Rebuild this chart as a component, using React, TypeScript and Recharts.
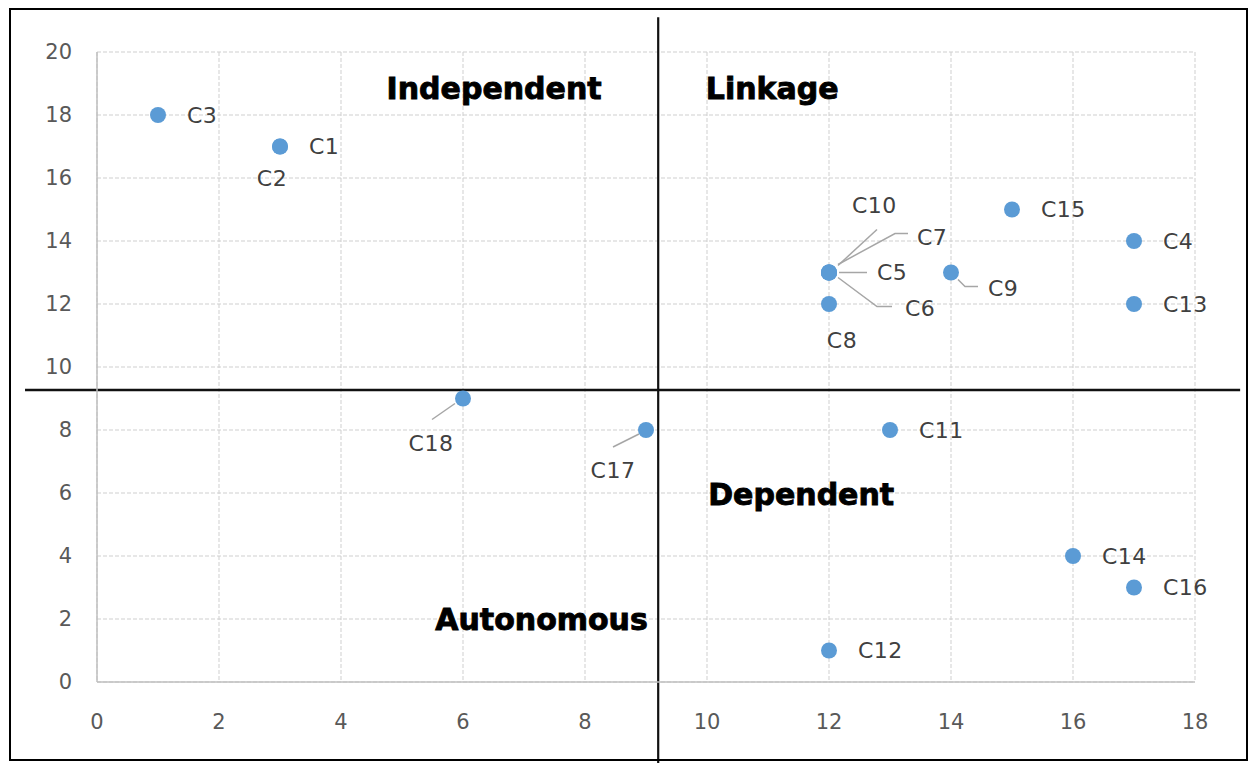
import { ScatterChart, Scatter, XAxis, YAxis, CartesianGrid, ReferenceLine } from 'recharts';

// factor codes, dependence (x) and driving power (y)
const names = ['C1', 'C2', 'C3', 'C4', 'C5', 'C6', 'C7', 'C8', 'C9', 'C10', 'C11', 'C12', 'C13', 'C14', 'C15', 'C16', 'C17', 'C18'];
const dependence = [3, 3, 1, 17, 12, 12, 12, 12, 14, 12, 13, 12, 17, 16, 15, 17, 9, 6];
const drivingPower = [17, 17, 18, 14, 13, 13, 13, 12, 13, 13, 8, 1, 12, 4, 15, 3, 8, 9];

const xTicks = [0, 2, 4, 6, 8, 10, 12, 14, 16, 18];
const yTicks = [0, 2, 4, 6, 8, 10, 12, 14, 16, 18, 20];

// quadrant split
const splitX = 9.2;
const splitY = 9.27;

const quadrantNames = ['Independent', 'Linkage', 'Dependent', 'Autonomous'];
const quadrantX = [6.51, 9.98, 10.02, 9.03];
const quadrantY = [18.83, 18.83, 5.94, 2.0];
const quadrantAnchor = ['middle', 'start', 'start', 'end'];

const points = names.map((name, i) => ({ name, x: dependence[i], y: drivingPower[i] }));
const quadrants = quadrantNames.map((name, i) => ({ name, x: quadrantX[i], y: quadrantY[i], anchor: quadrantAnchor[i] }));

const FONT = '"DejaVu Sans", sans-serif';
const DOT = '#5B9BD5';

type Placement = { dx: number; dy: number; anchor?: string; leader?: [number, number][] };

// label offsets (px) from the dot, with optional leader lines
const placement: Record<string, Placement> = {
  C2: { dx: -8, dy: 32, anchor: 'middle' },
  C8: { dx: 13, dy: 36, anchor: 'middle' },
  C10: { dx: 23, dy: -67, leader: [[9, -7], [48, -43]] },
  C7: { dx: 88, dy: -35, leader: [[9, -8], [66, -39], [79, -39]] },
  C5: { dx: 48, dy: 0, leader: [[10, 0], [38, 0]] },
  C6: { dx: 76, dy: 36, leader: [[9, 5], [48, 34], [63, 34]] },
  C9: { dx: 37, dy: 16, leader: [[7, 7], [14, 14], [27, 14]] },
  C18: { dx: -32, dy: 45, anchor: 'middle', leader: [[-8, 5], [-31, 21]] },
  C17: { dx: -33, dy: 40, anchor: 'middle', leader: [[-7, 4], [-33, 17]] },
};

const PointShape = (props: any) => {
  const { cx, cy, payload } = props;
  const p = placement[payload.name] || { dx: 29, dy: 0 };
  return (
    <g>
      {p.leader && (
        <polyline
          points={p.leader.map(([a, b]) => `${cx + a},${cy + b}`).join(' ')}
          fill="none" stroke="#a6a6a6" strokeWidth={1.5}
        />
      )}
      <circle cx={cx} cy={cy} r={8} fill={DOT} />
      <text x={cx + p.dx} y={cy + p.dy} textAnchor={p.anchor || 'start'} dominantBaseline="central"
        fontFamily={FONT} fontSize={22} letterSpacing={0.5} fill="#404040">
        {payload.name}
      </text>
    </g>
  );
};

const TitleShape = (props: any) => {
  const { cx, cy, payload } = props;
  return (
    <text x={cx} y={cy} textAnchor={payload.anchor} dominantBaseline="central"
      fontFamily={FONT} fontWeight="bold" fontSize={30} fill="#000" stroke="#000" strokeWidth={0.9}>
      {payload.name}
    </text>
  );
};

export default function App() {
  return (
    <div style={{ position: 'absolute', left: 0, top: 0, width: 1250, height: 763, background: '#fff' }}>
      <ScatterChart width={1250} height={763} margin={{ top: 52, right: 55, bottom: 21, left: 37 }}>
        <CartesianGrid stroke="#cfcfcf" strokeDasharray="4 2" />
        <XAxis type="number" dataKey="x" domain={[0, 18]} ticks={xTicks} interval={0}
          axisLine={{ stroke: '#bfbfbf', strokeWidth: 1.5 }} tickLine={false} tickSize={0} tickMargin={32}
          height={60} tick={{ fontFamily: FONT, fontSize: 21, fill: '#595959' }} />
        <YAxis type="number" dataKey="y" domain={[0, 20]} ticks={yTicks} interval={0}
          axisLine={{ stroke: '#bfbfbf', strokeWidth: 1.5 }} tickLine={false} tickSize={0} tickMargin={25}
          width={60} tick={{ fontFamily: FONT, fontSize: 21, fill: '#595959' }} />
        <ReferenceLine segment={[{ x: splitX, y: -2.6 }, { x: splitX, y: 21.1 }]} ifOverflow="visible"
          stroke="#111" strokeWidth={2.2} />
        <ReferenceLine segment={[{ x: -1.18, y: splitY }, { x: 18.74, y: splitY }]} ifOverflow="visible"
          stroke="#111" strokeWidth={2.5} />
        <Scatter data={quadrants} shape={TitleShape} isAnimationActive={false} />
        <Scatter data={points} shape={PointShape} isAnimationActive={false} />
      </ScatterChart>
      <div style={{
        position: 'absolute', left: 9, top: 8, width: 1239, height: 753,
        border: '2px solid #000', boxSizing: 'border-box', pointerEvents: 'none'
      }} />
    </div>
  );
}
